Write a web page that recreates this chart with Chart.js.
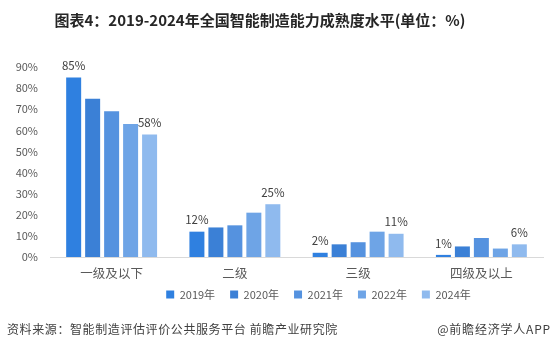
<!DOCTYPE html>
<html>
<head>
<meta charset="utf-8">
<script src="https://cdn.jsdelivr.net/npm/chart.js@4.4.1/dist/chart.umd.min.js"></script>
<style>
  html, body { margin: 0; padding: 0; background: #fff; }
  #wrap { position: relative; width: 558px; height: 350px; overflow: hidden; font-family: "Noto Sans CJK SC", "Noto Sans", sans-serif; }
  #title { position: absolute; left: 0; width: 520px; top: 9px; text-align: center; font-size: 15px; font-weight: bold; color: #262626; white-space: nowrap; }
  #src { position: absolute; left: 7px; top: 320px; font-size: 12px; letter-spacing: 0.6px; color: #404040; white-space: nowrap; }
  #app { position: absolute; right: 7px; top: 320px; font-size: 12px; letter-spacing: 0.8px; color: #404040; white-space: nowrap; }
  canvas { position: absolute; left: 0; top: 0; }
</style>
</head>
<body>
<div id="wrap">
  <canvas id="c" width="558" height="350"></canvas>
  <div id="title">图表4：2019-2024年全国智能制造能力成熟度水平(单位：%)</div>
  <div id="src">资料来源：智能制造评估评价公共服务平台 前瞻产业研究院</div>
  <div id="app">@前瞻经济学人APP</div>
</div>
<script>
const categories = ["一级及以下", "二级", "三级", "四级及以上"];
const seriesNames = ["2019年", "2020年", "2021年", "2022年", "2024年"];
const v2019 = [85, 12, 2, 1];
const v2020 = [75, 14, 6, 5];
const v2021 = [69, 15, 7, 9];
const v2022 = [63, 21, 12, 4];
const v2024 = [58, 25, 11, 6];
const yTicks = [0, 10, 20, 30, 40, 50, 60, 70, 80, 90];
const labelledSeries = [0, 4];

const colors = ["#2F80E0", "#3B80D6", "#5592DF", "#6EA4E6", "#8FBAEE"];
const allValues = [v2019, v2020, v2021, v2022, v2024];

const FONT = '"Noto Sans CJK SC", "Noto Sans", sans-serif';
const LEGEND_SHIFT = 47;

const dataLabels = {
  id: 'dataLabels',
  afterDatasetsDraw(chart) {
    const ctx = chart.ctx;
    ctx.save();
    ctx.font = '11.5px ' + FONT;
    ctx.fillStyle = '#404040';
    ctx.textAlign = 'center';
    ctx.textBaseline = 'bottom';
    labelledSeries.forEach(di => {
      const meta = chart.getDatasetMeta(di);
      meta.data.forEach((bar, i) => {
        ctx.fillText(chart.data.datasets[di].data[i] + '%', bar.x, bar.y - 6);
      });
    });
    ctx.restore();
  }
};

const legendShift = {
  id: 'legendShift',
  afterLayout(chart) {
    if (chart.legend) {
      chart.legend.left += LEGEND_SHIFT;
      chart.legend.right += LEGEND_SHIFT;
    }
  }
};

new Chart(document.getElementById('c'), {
  type: 'bar',
  data: {
    labels: categories,
    datasets: seriesNames.map((n, i) => ({
      label: n,
      data: allValues[i],
      backgroundColor: colors[i],
      borderWidth: 0,
      categoryPercentage: 0.77,
      barPercentage: 0.79
    }))
  },
  options: {
    responsive: false,
    animation: false,
    devicePixelRatio: 1,
    layout: { padding: { top: 67, right: 15, left: 0, bottom: 40 } },
    plugins: {
      title: { display: false },
      tooltip: { enabled: false },
      legend: {
        position: 'bottom',
        labels: {
          boxWidth: 8, boxHeight: 8, padding: 15,
          color: '#595959',
          font: { family: FONT, size: 11 }
        }
      }
    },
    scales: {
      x: {
        grid: { display: false, drawTicks: false },
        border: { display: true, color: '#D9D9D9', width: 1 },
        ticks: { color: '#595959', font: { family: FONT, size: 12.5 }, padding: 9 },
        afterFit(s) { s.height = 17; s._computeLabelArea = () => undefined; }
      },
      y: {
        min: 0, max: 90,
        afterBuildTicks(s) { s.ticks = yTicks.map(v => ({ value: v })); },
        grid: { display: false, drawTicks: false },
        border: { display: false },
        ticks: { color: '#595959', font: { family: FONT, size: 11 }, padding: 12, callback: v => v + '%' },
        afterFit(s) { s.width = 50; }
      }
    }
  },
  plugins: [dataLabels, legendShift]
});
</script>
</body>
</html>
